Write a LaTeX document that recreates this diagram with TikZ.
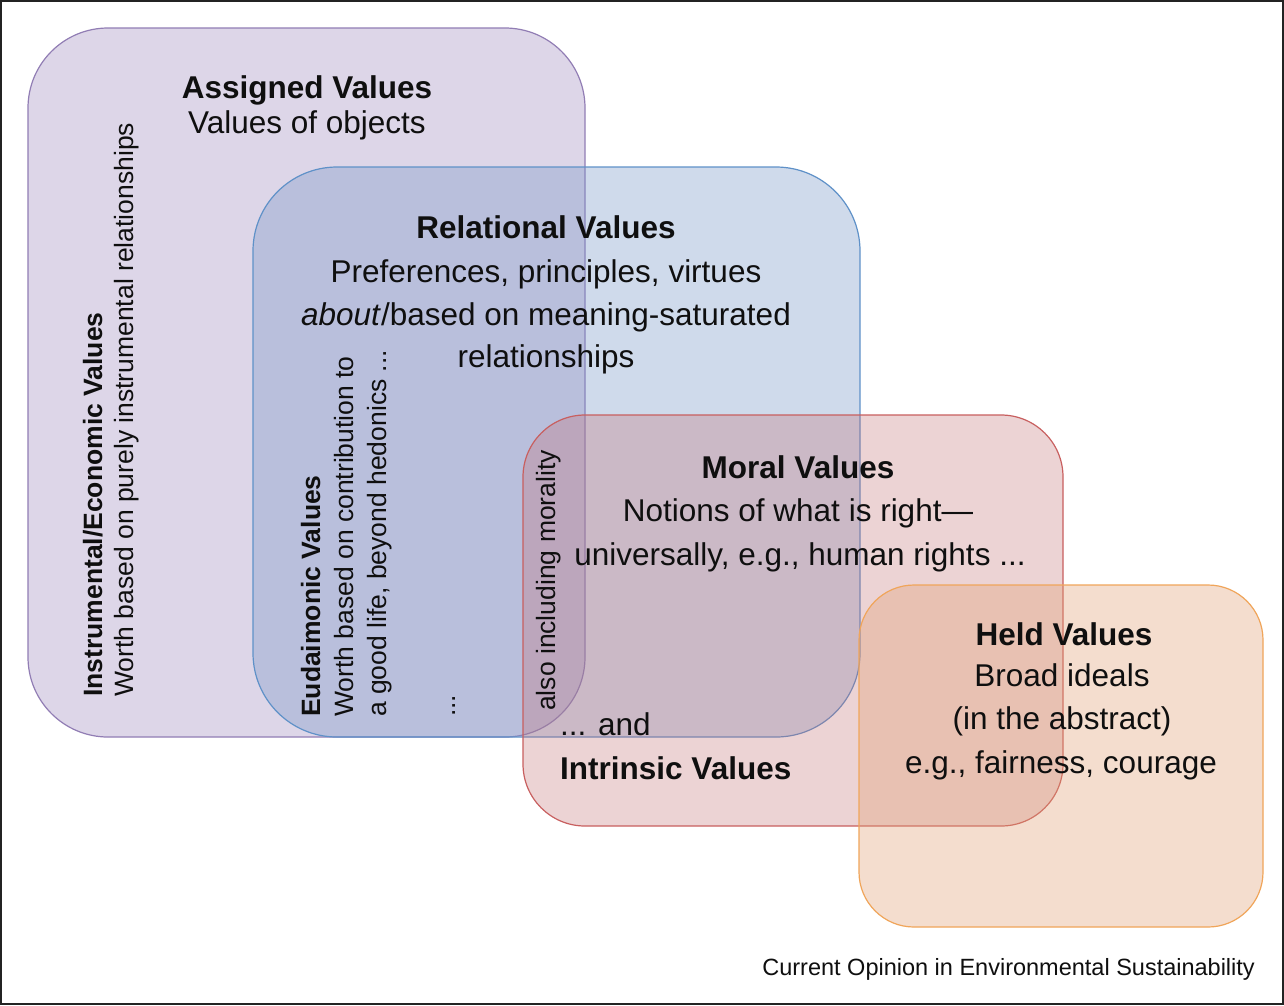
\documentclass[tikz,border=0pt]{standalone}
\usepackage{fontspec}
\setmainfont{Liberation Sans}
\definecolor{purplefill}{RGB}{160,140,190}
\definecolor{purpleedge}{RGB}{145,125,180}
\definecolor{bluefill}{RGB}{120,150,200}
\definecolor{blueedge}{RGB}{95,145,200}
\definecolor{redfill}{RGB}{195,110,115}
\definecolor{rededge}{RGB}{200,95,95}
\definecolor{orangefill}{RGB}{225,160,115}
\definecolor{orangeedge}{RGB}{240,165,90}
\definecolor{framegray}{RGB}{35,35,35}
\definecolor{inkblack}{RGB}{15,15,15}
\begin{document}
\begin{tikzpicture}[x=1pt,y=-1pt,
  vbox/.style={line width=1.2pt},
  purplebox/.style={vbox,draw=purpleedge,fill=purplefill,fill opacity=0.35,rounded corners=80pt},
  bluebox/.style={vbox,draw=blueedge,fill=bluefill,fill opacity=0.35,rounded corners=84pt},
  redbox/.style={vbox,draw=rededge,fill=redfill,fill opacity=0.3,rounded corners=62pt},
  orangebox/.style={vbox,draw=orangeedge,fill=orangefill,fill opacity=0.35,rounded corners=55pt},
  ttl/.style={font=\fontsize{31.5}{38}\selectfont\bfseries,inner sep=0pt,anchor=base,text=inkblack},
  body/.style={font=\fontsize{31.5}{38}\selectfont,inner sep=0pt,anchor=base,text=inkblack},
  rttl/.style={font=\fontsize{26.5}{32}\selectfont\bfseries,inner sep=0pt,rotate=90,anchor=base west,text=inkblack},
  rbody/.style={font=\fontsize{26.5}{32}\selectfont,inner sep=0pt,rotate=90,anchor=base west,text=inkblack},
  foot/.style={font=\fontsize{23.5}{28}\selectfont,inner sep=0pt,anchor=base east,text=inkblack}]
\useasboundingbox (0,0) rectangle (1284,1005);
\fill[white] (0,0) rectangle (1284,1005);
\draw[line width=2pt,draw=framegray] (1,1) rectangle (1283,1004);

% boxes
\draw[purplebox] (28,28) rectangle (585,737);
\draw[bluebox] (253,167) rectangle (860,737);
\draw[redbox] (523,415) rectangle (1063,826);
\draw[orangebox] (859,585) rectangle (1263,927);

% Assigned
\node[ttl] (asg) at (307,98) {Assigned Values};
\node[body] (asgd) at (307,133) {Values of objects};

% Instrumental (rotated)
\node[rttl] (ins) at (102,697) {Instrumental/Economic Values};
\node[rbody] (insd) at (133,697) {Worth based on purely instrumental relationships};

% Relational
\node[ttl] (rel) at (546,238) {Relational Values};
\node[body] (rel1) at (546,282) {Preferences, principles, virtues};
\node[body] (rel2) at (546,325) {\textit{about}/based on meaning-saturated};
\node[body] (rel3) at (546,367) {relationships};

% Eudaimonic (rotated)
\node[rttl] (eud) at (320,717) {Eudaimonic Values};
\node[rbody] (eud1) at (353,717) {Worth based on contribution to};
\node[rbody] (eud2) at (386,717) {a good life, beyond hedonics ...};
\node[rbody] (eud3) at (455,717) {...};

% also including morality
\node[rbody] (morl) at (555,711) {also including morality};

% Moral
\node[ttl] (mor) at (798,478) {Moral Values};
\node[body] (mor1) at (798,521) {Notions of what is right—};
\node[body] (mor2) at (800,565) {universally, e.g., human rights ...};

% Intrinsic
\node[body,anchor=base west] (and) at (560,735) {... and};
\node[ttl,anchor=base west] (intr) at (560,779) {Intrinsic Values};

% Held
\node[ttl] (held) at (1064,645) {Held Values};
\node[body] (held1) at (1062,686) {Broad ideals};
\node[body] (held2) at (1062,729) {(in the abstract)};
\node[body] (held3) at (1061,773) {e.g., fairness, courage};

% footer
\node[foot] (src) at (1255,975) {Current Opinion in Environmental Sustainability};
\end{tikzpicture}
\end{document}
